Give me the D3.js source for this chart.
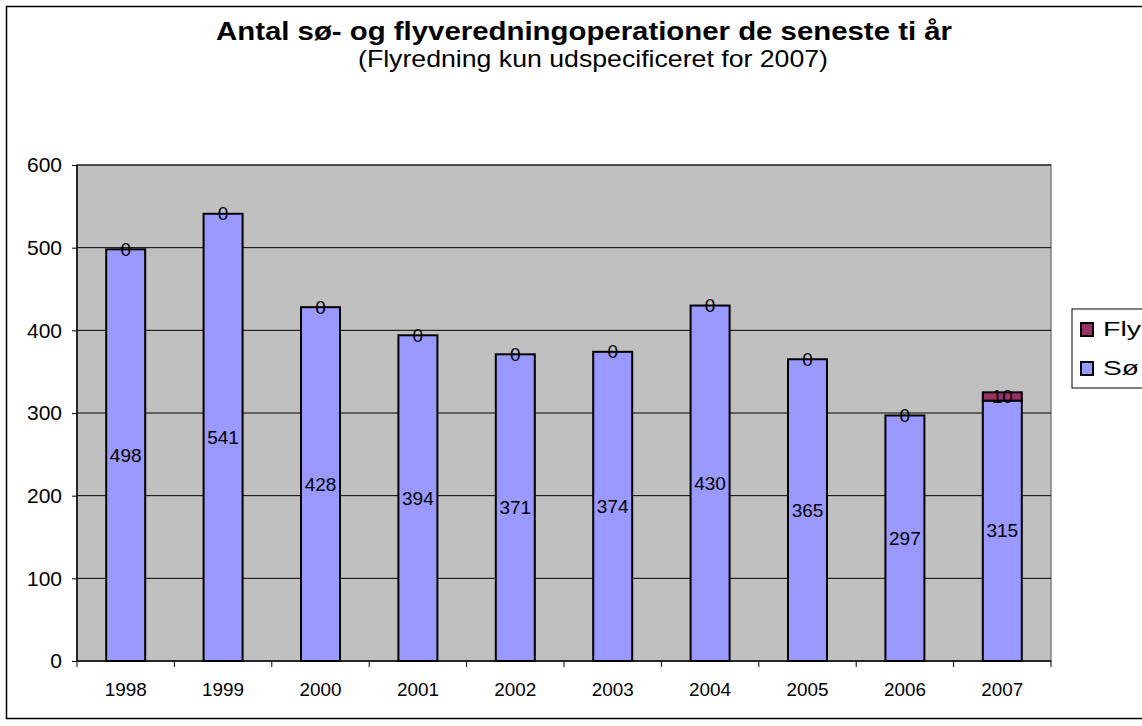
<!DOCTYPE html>
<html>
<head>
<meta charset="utf-8">
<script src="https://cdn.jsdelivr.net/npm/d3@7"></script>
<style>
  body { margin: 0; background: #fff; }
  svg { font-family: "Liberation Sans", Arial, sans-serif; }
</style>
</head>
<body>
<div id="chart"></div>
<script>
// Data
const years = ["1998", "1999", "2000", "2001", "2002", "2003", "2004", "2005", "2006", "2007"];
const soValues = [498, 541, 428, 394, 371, 374, 430, 365, 297, 315];
const flyValues = [0, 0, 0, 0, 0, 0, 0, 0, 0, 10];
const seriesNames = ["Sø", "Fly"];
const yTicks = [0, 100, 200, 300, 400, 500, 600];

const width = 1142, height = 726;
const svg = d3.select("#chart").append("svg")
  .attr("width", width)
  .attr("height", height);

// outer chart border
svg.append("rect")
  .attr("x", 6.5).attr("y", 6.5)
  .attr("width", 1160).attr("height", 712)
  .attr("fill", "#fff")
  .attr("stroke", "#000")
  .attr("stroke-width", 1.5);

const margin = { top: 165, left: 77 };
const plotW = 974, plotH = 496;

const g = svg.append("g")
  .attr("transform", `translate(${margin.left}, ${margin.top})`);

const xCat = d3.scaleBand().domain(years).range([0, plotW]);
const y = d3.scaleLinear().domain([0, 600]).range([plotH, 0]);

// plot area
g.append("rect")
  .attr("width", plotW).attr("height", plotH)
  .attr("fill", "#C0C0C0")
  .attr("stroke", "#808080")
  .attr("stroke-width", 1.5);

// gridlines
g.selectAll(".grid")
  .data(yTicks.filter(d => d > 0))
  .enter().append("line")
  .attr("x1", 0).attr("x2", plotW)
  .attr("y1", d => y(d)).attr("y2", d => y(d))
  .attr("stroke", "#000").attr("stroke-width", 1);

// stacked bars
const rows = years.map((yr, i) => ({ year: yr, "Sø": soValues[i], "Fly": flyValues[i] }));
const series = d3.stack().keys(seriesNames)(rows);
const colors = { "Sø": "#9999FF", "Fly": "#993366" };

series.forEach(s => {
  g.selectAll(".bar-" + s.key)
    .data(s)
    .enter().append("rect")
    .attr("x", d => xCat(d.data.year) + (xCat.bandwidth() - 39) / 2)
    .attr("width", 39)
    .attr("y", d => y(d[1]))
    .attr("height", d => y(d[0]) - y(d[1]))
    .attr("fill", colors[s.key])
    .attr("stroke", "#000")
    .attr("stroke-width", 2);
});

// data labels
series.forEach(s => {
  g.selectAll(".lbl-" + s.key)
    .data(s)
    .enter().append("text")
    .attr("x", d => xCat(d.data.year) + xCat.bandwidth() / 2)
    .attr("y", d => y((d[0] + d[1]) / 2))
    .attr("dy", "0.35em")
    .attr("text-anchor", "middle")
    .attr("font-size", "19px")
    .attr("fill", "#000")
    .text(d => d[1] - d[0]);
});

// y axis
const yAxis = g.append("g").call(d3.axisLeft(y).tickValues(yTicks).tickSize(5).tickPadding(10));
yAxis.select(".domain").attr("stroke", "#000").attr("d", `M0,0V${plotH}`).attr("stroke-width", 1.5);
yAxis.selectAll("text").attr("font-size", "21px").attr("font-family", "Liberation Sans, Arial, sans-serif").attr("fill", "#000");
yAxis.selectAll("line").attr("stroke", "#000");

// x axis
const xAxis = g.append("g").attr("transform", `translate(0, ${plotH})`);
xAxis.append("line").attr("x1", 0).attr("x2", plotW).attr("stroke", "#000").attr("stroke-width", 1.5);
xAxis.selectAll(".xtick")
  .data(years.concat(["end"]))
  .enter().append("line")
  .attr("x1", (d, i) => i * xCat.step()).attr("x2", (d, i) => i * xCat.step())
  .attr("y1", 0).attr("y2", 6)
  .attr("stroke", "#000");
xAxis.selectAll(".xlbl")
  .data(years)
  .enter().append("text")
  .attr("x", d => xCat(d) + xCat.bandwidth() / 2)
  .attr("y", 35)
  .attr("text-anchor", "middle")
  .attr("font-size", "19px")
  .attr("textLength", 42)
  .attr("lengthAdjust", "spacingAndGlyphs")
  .text(d => d);

// titles
svg.append("text")
  .attr("x", 584).attr("y", 40)
  .attr("text-anchor", "middle")
  .attr("font-size", "26px")
  .attr("font-weight", "bold")
  .attr("textLength", 736)
  .attr("lengthAdjust", "spacingAndGlyphs")
  .text("Antal sø- og flyveredningoperationer de seneste ti år");
svg.append("text")
  .attr("x", 593).attr("y", 67)
  .attr("text-anchor", "middle")
  .attr("font-size", "24px")
  .attr("textLength", 470)
  .attr("lengthAdjust", "spacingAndGlyphs")
  .text("(Flyredning kun udspecificeret for 2007)");

// legend
const legend = svg.append("g").attr("transform", "translate(1072, 309)");
legend.append("rect")
  .attr("width", 90).attr("height", 79)
  .attr("fill", "#fff").attr("stroke", "#000").attr("stroke-width", 1);
[["Fly", 38], ["Sø", 36]].forEach(([name, len], i) => {
  const item = legend.append("g").attr("transform", `translate(9, ${14 + i * 39})`);
  item.append("rect")
    .attr("width", 12).attr("height", 13)
    .attr("fill", colors[name]).attr("stroke", "#000").attr("stroke-width", 2);
  item.append("text")
    .attr("x", 22).attr("y", 13)
    .attr("font-size", "21px")
    .attr("textLength", len)
    .attr("lengthAdjust", "spacingAndGlyphs")
    .text(name);
});
</script>
</body>
</html>
